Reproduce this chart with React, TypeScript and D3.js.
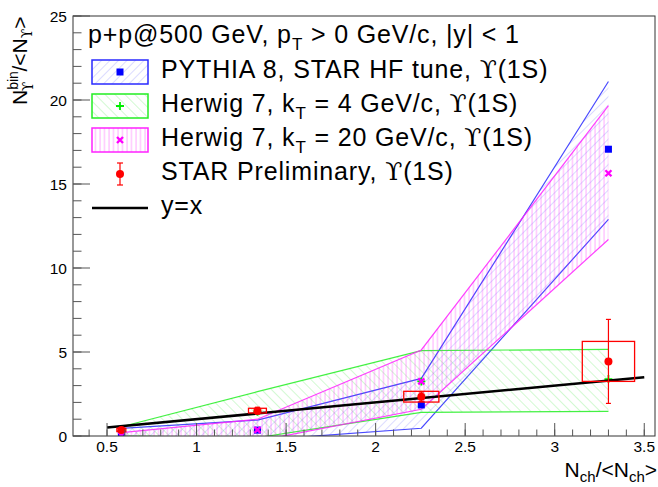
import React from 'react';
import * as d3 from 'd3';

// N_ch/<N_ch> bin centres
const nchBins = [0.58, 1.34, 2.255, 3.3];

// STAR preliminary
const starY = [0.36, 1.51, 2.34, 4.44];
const starStat = [0.06, 0.2, 0.28, 2.5];
const starSys = [0.1, 0.14, 0.32, 1.19];
const starSysHalfWidth = [0.025, 0.05, 0.098, 0.146];

// PYTHIA 8, STAR HF tune
const pythiaY = [0.1, 0.35, 1.85, 17.07];
const pythiaHi = [0.45, 0.95, 3.43, 21.1];
const pythiaLo = [-0.2, -0.25, 0.46, 12.9];

// Herwig 7, kT = 4 GeV/c
const herwig4Y = [0.3, 1.45, 3.25, 3.39];
const herwig4Hi = [0.55, 2.64, 5.08, 5.16];
const herwig4Lo = [0.0, -0.1, 1.41, 1.47];

// Herwig 7, kT = 20 GeV/c
const herwig20Y = [0.05, 0.36, 3.25, 15.64];
const herwig20Hi = [0.2, 1.0, 5.12, 19.66];
const herwig20Lo = [-0.1, -0.3, 1.59, 11.7];

const yEqXRange = [0.5, 3.5];
const xTicks = [0.5, 1, 1.5, 2, 2.5, 3, 3.5];
const yTicks = [0, 5, 10, 15, 20, 25];

const W = 658;
const H = 487;
const margin = { top: 16, right: 3, bottom: 51, left: 73 };
const FONT = "'Liberation Sans', Arial, Helvetica, sans-serif";
const SERIF = "'DejaVu Serif', 'Liberation Serif', serif";
const UPS = '\u03D2';

const x = d3.scaleLinear().domain([0.31, 3.56]).range([margin.left, W - margin.right]);
const y = d3.scaleLinear().domain([0, 25]).range([H - margin.bottom, margin.top]);

const band = (lo: number[], hi: number[]) =>
  d3.area<number>()
    .x((d) => x(nchBins[d]))
    .y0((d) => y(lo[d]))
    .y1((d) => y(hi[d]))(nchBins.map((_, i) => i)) || '';

const edge = (vals: number[]) =>
  d3.line<number>()
    .x((d) => x(nchBins[d]))
    .y((d) => y(vals[d]))(nchBins.map((_, i) => i)) || '';

const models = [
  { key: 'py', vals: pythiaY, lo: pythiaLo, hi: pythiaHi, color: '#2a2aff', pattern: 'hBlue' },
  { key: 'h4', vals: herwig4Y, lo: herwig4Lo, hi: herwig4Hi, color: '#22ee22', pattern: 'hGreen' },
  { key: 'h20', vals: herwig20Y, lo: herwig20Lo, hi: herwig20Hi, color: '#ff22ff', pattern: 'hMag' },
];

const Marker = ({ kind, cx, cy }: { kind: string; cx: number; cy: number }) => {
  if (kind === 'py') return <rect x={cx - 3.5} y={cy - 3.5} width={7} height={7} fill="#0000ff" />;
  if (kind === 'h4')
    return (
      <path d={`M${cx - 4},${cy}H${cx + 4}M${cx},${cy - 4}V${cy + 4}`} stroke="#00ee00" strokeWidth={1.8} />
    );
  return (
    <path
      d={`M${cx - 3},${cy - 3}L${cx + 3},${cy + 3}M${cx - 3},${cy + 3}L${cx + 3},${cy - 3}`}
      stroke="#ff00ff"
      strokeWidth={2.4}
    />
  );
};

const App = () => {
  const x0 = margin.left;
  const x1 = W - margin.right;
  const y0 = H - margin.bottom;
  const y1 = margin.top;
  const xMinor = d3.range(4, 36).map((d) => d / 10);
  const yMinor = d3.range(0, 26);
  const legendRows = [72, 106, 140, 174, 208];
  const lx0 = 92;
  const lx1 = 148;
  const lxc = (lx0 + lx1) / 2;
  const tx = 161;
  const ls = 0.85;

  return (
    <svg width={W} height={H} style={{ position: 'absolute', left: 0, top: 0, background: '#fff' }} fontFamily={FONT}>
      <defs>
        <clipPath id="plotClip">
          <rect x={x0} y={y1} width={x1 - x0} height={y0 - y1} />
        </clipPath>
        <pattern id="hBlue" width={6} height={6} patternUnits="userSpaceOnUse" patternTransform="rotate(45)">
          <line x1={0} y1={0} x2={0} y2={6} stroke="#0000ff" strokeOpacity={0.28} strokeWidth={1} />
        </pattern>
        <pattern id="hGreen" width={7} height={7} patternUnits="userSpaceOnUse" patternTransform="rotate(-45)">
          <line x1={0} y1={0} x2={0} y2={7} stroke="#00dd00" strokeOpacity={0.35} strokeWidth={1} />
        </pattern>
        <pattern id="hMag" width={4.5} height={4.5} patternUnits="userSpaceOnUse">
          <line x1={1} y1={0} x2={1} y2={4.5} stroke="#ff00ff" strokeOpacity={0.32} strokeWidth={1} />
        </pattern>
      </defs>

      <g clipPath="url(#plotClip)">
        {models.map((m) => (
          <g key={m.key}>
            <path d={band(m.lo, m.hi)} fill={`url(#${m.pattern})`} />
            <path d={edge(m.hi)} fill="none" stroke={m.color} strokeWidth={1.2} strokeOpacity={0.85} />
            <path d={edge(m.lo)} fill="none" stroke={m.color} strokeWidth={1.2} strokeOpacity={0.85} />
          </g>
        ))}
        {models.map((m) =>
          m.vals.map((v, i) => <Marker key={`${m.key}${i}`} kind={m.key} cx={x(nchBins[i])} cy={y(v)} />)
        )}
        <line
          x1={x(yEqXRange[0])}
          y1={y(yEqXRange[0])}
          x2={x(yEqXRange[1])}
          y2={y(yEqXRange[1])}
          stroke="#000"
          strokeWidth={2.5}
        />
        {starY.map((v, i) => {
          const cx = x(nchBins[i]);
          return (
            <g key={`star${i}`}>
              <rect
                x={x(nchBins[i] - starSysHalfWidth[i])}
                y={y(v + starSys[i])}
                width={x(nchBins[i] + starSysHalfWidth[i]) - x(nchBins[i] - starSysHalfWidth[i])}
                height={y(v - starSys[i]) - y(v + starSys[i])}
                fill="none"
                stroke="#ff0000"
                strokeWidth={1.3}
              />
              <line x1={cx} x2={cx} y1={y(v + starStat[i])} y2={y(v - starStat[i])} stroke="#ff0000" strokeWidth={1.2} />
              <line x1={cx - 2.5} x2={cx + 2.5} y1={y(v + starStat[i])} y2={y(v + starStat[i])} stroke="#ff0000" strokeWidth={1.2} />
              <line x1={cx - 2.5} x2={cx + 2.5} y1={y(v - starStat[i])} y2={y(v - starStat[i])} stroke="#ff0000" strokeWidth={1.2} />
              <circle cx={cx} cy={y(v)} r={4} fill="#ff0000" />
            </g>
          );
        })}
      </g>

      {/* frame and axes */}
      <rect x={x0} y={y1} width={x1 - x0} height={y0 - y1} fill="none" stroke="#333" strokeWidth={1} />
      {xMinor.map((t) => (
        <line key={`xm${t}`} x1={x(t)} x2={x(t)} y1={y0} y2={y0 - 6.5} stroke="#555" strokeWidth={1} />
      ))}
      {xTicks.map((t) => (
        <g key={`xt${t}`}>
          <line x1={x(t)} x2={x(t)} y1={y0} y2={y0 - 13} stroke="#555" strokeWidth={1} />
          <text x={x(t)} y={y0 + 16} textAnchor="middle" fontSize={15.5} fill="#000">
            {t}
          </text>
        </g>
      ))}
      {yMinor.map((t) => (
        <line key={`ym${t}`} x1={x0} x2={x0 + 8.5} y1={y(t)} y2={y(t)} stroke="#555" strokeWidth={1} />
      ))}
      {yTicks.map((t) => (
        <g key={`yt${t}`}>
          <line x1={x0} x2={x0 + 17} y1={y(t)} y2={y(t)} stroke="#555" strokeWidth={1} />
          <text x={x0 - 6} y={y(t) + 5.5} textAnchor="end" fontSize={15.5} fill="#000">
            {t}
          </text>
        </g>
      ))}

      {/* axis titles */}
      <text x={657} y={477} textAnchor="end" fontSize={21} fill="#000">
        N<tspan fontSize={15} dy={5}>ch</tspan>
        <tspan dy={-5}>/&lt;N</tspan>
        <tspan fontSize={15} dy={5}>ch</tspan>
        <tspan dy={-5}>&gt;</tspan>
      </text>
      <text transform="translate(27,105) rotate(-90)" fontSize={21} fill="#000">
        N<tspan fontSize={14} dy={-9}>bin</tspan>
        <tspan fontSize={14} dx={-20} dy={15} fontFamily={SERIF}>{UPS}</tspan>
        <tspan dx={10} dy={-6}>/&lt;N</tspan>
        <tspan fontSize={14} dy={5} fontFamily={SERIF}>{UPS}</tspan>
        <tspan dy={-5}>&gt;</tspan>
      </text>

      {/* title */}
      <text x={88} y={43} fontSize={25} letterSpacing={ls} fill="#000">
        p+p@500 GeV, p<tspan fontSize={17} dy={7}>T</tspan>
        <tspan dy={-7}> &gt; 0 GeV/c, |y| &lt; 1</tspan>
      </text>

      {/* legend */}
      {models.map((m, i) => (
        <g key={`lg${m.key}`}>
          <rect
            x={lx0}
            y={legendRows[i] - 12}
            width={lx1 - lx0}
            height={24}
            fill={`url(#${m.pattern})`}
            stroke={m.color}
            strokeWidth={1.5}
          />
          <Marker kind={m.key} cx={lxc} cy={legendRows[i]} />
        </g>
      ))}
      <text x={tx} y={legendRows[0] + 6} fontSize={25} letterSpacing={ls} fill="#000">
        PYTHIA 8, STAR HF tune, <tspan fontFamily={SERIF}>{UPS}</tspan>(1S)
      </text>
      <text x={tx} y={legendRows[1] + 6} fontSize={25} letterSpacing={ls} fill="#000">
        Herwig 7, k<tspan fontSize={17} dy={7}>T</tspan>
        <tspan dy={-7}> = 4 GeV/c, </tspan>
        <tspan fontFamily={SERIF}>{UPS}</tspan>(1S)
      </text>
      <text x={tx} y={legendRows[2] + 6} fontSize={25} letterSpacing={ls} fill="#000">
        Herwig 7, k<tspan fontSize={17} dy={7}>T</tspan>
        <tspan dy={-7}> = 20 GeV/c, </tspan>
        <tspan fontFamily={SERIF}>{UPS}</tspan>(1S)
      </text>
      <g>
        <line x1={lxc} x2={lxc} y1={legendRows[3] - 11} y2={legendRows[3] + 11} stroke="#ff0000" strokeWidth={1.2} />
        <line x1={lxc - 3} x2={lxc + 3} y1={legendRows[3] - 11} y2={legendRows[3] - 11} stroke="#ff0000" strokeWidth={1.2} />
        <line x1={lxc - 3} x2={lxc + 3} y1={legendRows[3] + 11} y2={legendRows[3] + 11} stroke="#ff0000" strokeWidth={1.2} />
        <circle cx={lxc} cy={legendRows[3]} r={4} fill="#ff0000" />
      </g>
      <text x={tx} y={legendRows[3] + 6} fontSize={25} letterSpacing={ls} fill="#000">
        STAR Preliminary, <tspan fontFamily={SERIF}>{UPS}</tspan>(1S)
      </text>
      <line x1={lx0} x2={lx1} y1={legendRows[4]} y2={legendRows[4]} stroke="#000" strokeWidth={2.5} />
      <text x={tx} y={legendRows[4] + 6} fontSize={25} letterSpacing={ls} fill="#000">
        y=x
      </text>
    </svg>
  );
};

export default App;
